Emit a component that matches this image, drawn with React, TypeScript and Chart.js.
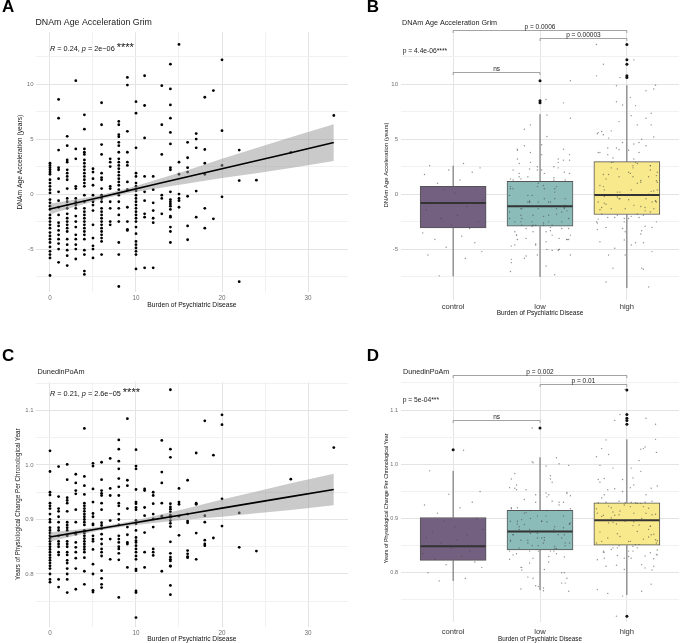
import React, { useEffect, useRef } from 'react';
import { Chart, registerables } from 'chart.js';

Chart.register(...registerables);

const FONT = '"Liberation Sans", Arial, Helvetica, sans-serif';
Chart.defaults.font.family = FONT;

// ---------- axis ticks ----------
const BURDEN_MAJOR = [0, 10, 20, 30];
const BURDEN_MINOR = [5, 15, 25];
const GRIM_MAJOR = [-5, 0, 5, 10];
const GRIM_MINOR = [-7.5, -2.5, 2.5, 7.5, 12.5];
const POAM_MAJOR = [0.8, 0.9, 1.0, 1.1];
const POAM_MINOR = [0.75, 0.85, 0.95, 1.05, 1.15];
const GROUPS = ['control', 'low', 'high'];
const GROUP_POS = [1, 2, 3];
const LOW_MAX_BURDEN = 7; // burden 0 = control, 1..7 = low, >=8 = high

// ---------- scatter data: [burden, values] ----------
const GRIM_COLUMNS: Array<[number, number[]]> = [
  [0, [2.8, 2.6, 2.4, 2.2, 2.0, 1.8, 1.3, 1.0, 0.7, 0.4, 0.1, -0.5, -0.8, -1.1, -1.4, -1.9, -2.2, -2.5, -2.8, -3.1, -3.5, -3.8, -4.1, -4.4, -4.8, -5.2, -5.5, -5.8, -7.4]],
  [1, [8.6, 6.9, 4.0, 2.4, 2.2, 1.4, 0.2, -0.6, -1.2, -1.9, -2.6, -2.9, -3.3, -3.7, -4.1, -4.5, -5.0, -6.2]],
  [2, [5.25, 4.4, 3.1, 2.9, 2.2, 1.9, 1.6, 1.3, 0.5, -0.4, -0.7, -1.0, -1.3, -1.8, -2.2, -2.5, -2.8, -3.1, -3.4, -4.1, -4.6, -5.1, -5.6, -6.5]],
  [3, [10.3, 4.1, 3.2, 0.7, 0.5, -0.4, -0.7, -1.0, -1.3, -2.0, -2.5, -3.0, -3.7, -4.1, -4.6, -5.0, -5.9]],
  [4, [7.2, 5.9, 4.1, 3.8, 3.6, 3.1, 2.8, 2.5, 2.2, 1.9, 1.6, 1.3, 1.0, 0.7, -0.1, -0.7, -1.3, -1.6, -1.9, -2.2, -2.5, -2.8, -3.1, -3.4, -3.7, -4.1, -5.1, -5.5, -7.0, -7.3]],
  [5, [2.3, 2.0, 1.4, 0.8, -0.1, -0.7, -1.0, -1.5, -2.8, -4.0, -4.7, -5.0, -5.8]],
  [6, [8.3, 6.3, 4.5, 3.6, 1.9, 1.5, 1.3, 0.5, -0.1, -0.4, -0.7, -1.3, -1.6, -1.9, -2.2, -2.5, -2.8, -3.1, -3.4, -3.7, -4.0, -4.3, -5.5]],
  [7, [3.2, 2.9, 2.5, 0.7, 0.5, -0.7, -1.3, -2.5, -2.8]],
  [8, [6.6, 6.3, 5.4, 5.2, 4.7, 4.4, 3.8, 3.2, 2.9, 2.6, 2.3, 2.0, 1.7, 1.4, 1.1, 0.8, 0.4, -0.1, -0.7, -1.3, -1.9, -2.5, -4.4, -5.5, -8.4]],
  [9, [10.6, 9.9, 5.7, 3.8, 2.9, 2.6, 1.1, 0.4, -1.2, -2.5, -3.2, -3.3]],
  [10, [8.4, 7.35, 4.2, 1.9, 1.6, 1.0, 0.7, 0.3, -0.1, -0.4, -0.7, -1.0, -1.3, -1.6, -1.9, -2.2, -2.5, -3.0, -3.6, -4.3, -4.6, -4.9, -5.2, -5.5, -6.8]],
  [11, [10.75, 8.05, 5.1, 1.6, 0.2, -0.6, -1.8, -2.1, -6.7]],
  [12, [1.6, 0.4, -0.8, -1.5, -2.2, -2.6, -6.7]],
  [13, [9.85, 6.3, 3.6, -0.1, -0.4, -1.8]],
  [14, [11.8, 9.55, 8.1, 6.9, 5.6, 4.56, 2.4, 2.2, 0.2, -0.5, -0.7, -0.9, -1.1, -1.4, -2.0, -2.1, -3.0, -3.4, -4.4]],
  [15, [13.6, 2.9, 1.8, 0.0, -0.4, -0.6, -1.2]],
  [16, [4.7, 3.3, 2.4, 2.0, -0.2, -2.9, -4.15]],
  [17, [5.5, 5.0, 4.2, 0.27, -2.1]],
  [18, [8.8, 4.05, 2.8, 1.8, -1.3, -3.1]],
  [19, [9.4, -2.25]],
  [20, [12.2, 5.76, 2.6, -0.25]],
  [22, [4.0, 1.23, -7.96]],
  [24, [1.26]],
  [28, [3.78]],
  [33, [7.14]],
];

const POAM_COLUMNS: Array<[number, number[]]> = [
  [0, [1.026, 0.988, 0.95, 0.945, 0.93, 0.925, 0.92, 0.91, 0.9, 0.895, 0.885, 0.88, 0.875, 0.87, 0.865, 0.86, 0.855, 0.85, 0.845, 0.84, 0.835, 0.83, 0.825, 0.82, 0.815, 0.81, 0.8, 0.79, 0.785]],
  [1, [0.997, 0.942, 0.92, 0.915, 0.905, 0.895, 0.885, 0.88, 0.87, 0.86, 0.855, 0.85, 0.84, 0.835, 0.79, 0.776]],
  [2, [1.001, 0.973, 0.94, 0.935, 0.93, 0.915, 0.895, 0.89, 0.885, 0.88, 0.87, 0.86, 0.855, 0.85, 0.84, 0.835, 0.825, 0.82, 0.81, 0.8, 0.79, 0.766]],
  [3, [0.983, 0.967, 0.953, 0.947, 0.918, 0.895, 0.876, 0.873, 0.858, 0.849, 0.84, 0.829, 0.81, 0.772]],
  [4, [1.067, 0.979, 0.962, 0.946, 0.93, 0.925, 0.92, 0.915, 0.91, 0.905, 0.9, 0.895, 0.89, 0.88, 0.875, 0.87, 0.865, 0.86, 0.855, 0.85, 0.845, 0.84, 0.83, 0.805, 0.781]],
  [5, [1.003, 0.998, 0.956, 0.932, 0.911, 0.905, 0.892, 0.89, 0.87, 0.864, 0.86, 0.845, 0.818, 0.8, 0.77, 0.767]],
  [6, [1.005, 0.973, 0.953, 0.948, 0.944, 0.93, 0.918, 0.894, 0.889, 0.883, 0.873, 0.864, 0.855, 0.846, 0.84, 0.833, 0.806, 0.792, 0.781, 0.775]],
  [7, [1.012, 0.957, 0.944, 0.898, 0.864, 0.827]],
  [8, [1.046, 1.029, 1.007, 0.993, 0.975, 0.96, 0.944, 0.93, 0.925, 0.91, 0.9, 0.89, 0.87, 0.864, 0.858, 0.85, 0.846, 0.838, 0.826, 0.757]],
  [9, [1.085, 0.972, 0.962, 0.92, 0.886, 0.872, 0.858, 0.855, 0.812]],
  [10, [1.028, 0.998, 0.993, 0.955, 0.932, 0.929, 0.922, 0.918, 0.898, 0.892, 0.88, 0.867, 0.861, 0.858, 0.852, 0.846, 0.84, 0.833, 0.827, 0.809, 0.806, 0.769, 0.766, 0.72]],
  [11, [0.956, 0.953, 0.922, 0.907, 0.876, 0.84, 0.812]],
  [12, [0.95, 0.944, 0.929, 0.91, 0.901, 0.886, 0.846, 0.84, 0.834]],
  [13, [1.045, 0.987, 0.967, 0.93, 0.906, 0.805]],
  [14, [1.138, 1.029, 1.014, 0.929, 0.923, 0.919, 0.914, 0.908, 0.904, 0.898, 0.893, 0.887, 0.859, 0.838, 0.831, 0.827, 0.824, 0.815, 0.814, 0.779, 0.762]],
  [15, [0.957, 0.932, 0.928, 0.906, 0.871]],
  [16, [0.972, 0.91, 0.897, 0.894, 0.843, 0.837, 0.832, 0.83]],
  [17, [1.022, 0.93, 0.928, 0.875, 0.827]],
  [18, [1.081, 0.907, 0.895, 0.862, 0.855, 0.852]],
  [19, [1.018, 0.866]],
  [20, [1.092, 1.074, 0.938, 0.888]],
  [22, [0.912, 0.849]],
  [24, [0.842]],
  [28, [0.974]],
  [33, [1.032]],
];

// ---------- regression fits with 95% bands ----------
const FIT_X = [0, 3, 6, 9, 12, 16, 20, 24, 28, 33];
const GRIM_FIT = [-1.36, -0.81, -0.26, 0.29, 0.84, 1.57, 2.3, 3.03, 3.76, 4.68];
const GRIM_LOWER = [-1.84, -1.12, -0.44, 0.08, 0.47, 0.97, 1.45, 1.88, 2.36, 3.01];
const GRIM_UPPER = [-0.88, -0.5, -0.07, 0.51, 1.2, 2.17, 3.2, 4.18, 5.16, 6.35];
const POAM_FIT = [0.868, 0.8759, 0.8838, 0.8918, 0.8997, 0.9102, 0.9208, 0.9314, 0.9419, 0.9551];
const POAM_LOWER = [0.8596, 0.8705, 0.8806, 0.8881, 0.8934, 0.8998, 0.9048, 0.9114, 0.9175, 0.9261];
const POAM_UPPER = [0.8764, 0.8813, 0.887, 0.8955, 0.906, 0.9206, 0.9368, 0.9514, 0.9663, 0.9841];

// ---------- boxplot stats (control, low, high) ----------
const GRIM_WHISK_LO = [-7.45, -7.5, -8.5];
const GRIM_Q1 = [-3.06, -2.9, -1.83];
const GRIM_MEDIAN = [-0.78, -1.08, -0.06];
const GRIM_Q3 = [0.72, 1.17, 2.97];
const GRIM_WHISK_HI = [2.6, 7.27, 9.9];
const GRIM_OUTLIERS: Array<[number, number]> = [[2, 10.3], [2, 8.5], [2, 8.3], [3, 13.6], [3, 12.2], [3, 11.8], [3, 10.75], [3, 10.6]];

const POAM_WHISK_LO = [0.785, 0.768, 0.759];
const POAM_Q1 = [0.823, 0.842, 0.851];
const POAM_MEDIAN = [0.849, 0.876, 0.897];
const POAM_Q3 = [0.902, 0.915, 0.929];
const POAM_WHISK_HI = [0.988, 1.013, 1.046];
const POAM_OUTLIERS: Array<[number, number]> = [[1, 1.027], [2, 1.067], [3, 1.137], [3, 1.092], [3, 1.085], [3, 1.081], [3, 1.074], [3, 0.72]];

// ---------- comparisons ----------
const GRIM_BRACKETS: Array<[number, number, number, string]> = [[1, 3, 14.9, 'p = 0.0006'], [2, 3, 14.21, 'p = 0.00003'], [1, 2, 11.13, 'ns']];
const POAM_BRACKETS: Array<[number, number, number, string]> = [[1, 3, 1.165, 'p = 0.002'], [2, 3, 1.148, 'p = 0.01'], [1, 2, 1.082, 'ns']];
const GRIM_GLOBAL_P = 'p = 4.4e-06****';
const POAM_GLOBAL_P = 'p = 5e-04***';
const GRIM_R = '0.24';
const GRIM_P = '2e\u221206';
const POAM_R = '0.21';
const POAM_P = '2.6e\u221205';
const STARS = '****';

// horizontal jitter offsets for the box-plot points
const JITTER = [0.12, -0.27, 0.31, -0.05, 0.22, -0.33, 0.08, -0.18, 0.27, -0.11, 0.02, 0.34, -0.24, 0.16, -0.31, 0.05, -0.14, 0.29, -0.02, 0.19, -0.35, 0.1, -0.21, 0.25, -0.08, 0.33, -0.29, 0.14, -0.16, 0.07, 0.35, -0.26, 0.21, -0.03, -0.34, 0.17, -0.12, 0.28, -0.22, 0.04, -0.09];

const BOX_FILL = ['#735f7f', '#8bbcb9', '#f8e98c'];
const MAJOR_GRID = '#e4e4e4';
const MINOR_GRID = '#f1f1f1';

// ---------- helpers ----------
const isIn = (arr: number[], v: number) => arr.some((a) => Math.abs(a - v) < 1e-9);

function scatterPoints(cols: Array<[number, number[]]>) {
  const pts: { x: number; y: number }[] = [];
  cols.forEach(([b, vals]) => vals.forEach((v) => pts.push({ x: b, y: v })));
  return pts;
}

function jitterPoints(cols: Array<[number, number[]]>) {
  const pts: { x: number; y: number }[] = [];
  let k = 0;
  cols.forEach(([b, vals]) => {
    const g = b === 0 ? 0 : b <= LOW_MAX_BURDEN ? 1 : 2;
    vals.forEach((v) => {
      pts.push({ x: GROUP_POS[g] + JITTER[k % JITTER.length], y: v });
      k++;
    });
  });
  return pts;
}

function setTicks(values: number[]) {
  return (s: any) => {
    s.ticks = [...values].sort((a, b) => a - b).map((v) => ({ value: v }));
  };
}

function font(size: number, lineHeight = 1.2) {
  return { family: FONT, size, lineHeight };
}

function txt(ctx: CanvasRenderingContext2D, s: string, x: number, y: number, f: string, align: CanvasTextAlign = 'left', base: CanvasTextBaseline = 'middle', color = '#1a1a1a') {
  ctx.font = f;
  ctx.textAlign = align;
  ctx.textBaseline = base;
  ctx.fillStyle = color;
  ctx.fillText(s, x, y);
}

function corLabel(ctx: CanvasRenderingContext2D, x: number, baseline: number, r: string, p: string) {
  const size = 7.3;
  const parts: Array<[string, boolean]> = [['R', true], [' = ' + r + ', ', false], ['p', true], [' = ' + p + ' ', false]];
  let cx = x;
  ctx.textAlign = 'left';
  ctx.textBaseline = 'alphabetic';
  ctx.fillStyle = '#111';
  parts.forEach(([t, it]) => {
    ctx.font = `${it ? 'italic ' : ''}${size}px ${FONT}`;
    ctx.fillText(t, cx, baseline);
    cx += ctx.measureText(t).width;
  });
  ctx.font = `11px ${FONT}`;
  ctx.fillText(STARS, cx, baseline + 0.5);
}

function brackets(chart: any, list: Array<[number, number, number, string]>) {
  const { ctx, scales } = chart;
  const xs = scales.x;
  const ys = scales.y;
  ctx.save();
  ctx.strokeStyle = '#8c8c8c';
  ctx.lineWidth = 0.8;
  list.forEach(([a, b, v, label]) => {
    const x1 = xs.getPixelForValue(a);
    const x2 = xs.getPixelForValue(b);
    const py = Math.round(ys.getPixelForValue(v)) + 0.5;
    ctx.beginPath();
    ctx.moveTo(x1, py + 2.5);
    ctx.lineTo(x1, py);
    ctx.lineTo(x2, py);
    ctx.lineTo(x2, py + 2.5);
    ctx.stroke();
    txt(ctx, label, (x1 + x2) / 2, py - 3.6, `6.5px ${FONT}`, 'center', 'middle', '#222');
  });
  ctx.restore();
}

// ---------- configs ----------
interface ScatterSpec {
  cols: Array<[number, number[]]>;
  fit: number[];
  lower: number[];
  upper: number[];
  yMin: number;
  yMax: number;
  yMajor: number[];
  yMinor: number[];
  yFmt: (v: number) => string;
  yTitle: string;
  yTitleSize: number;
  yTitlePad: number;
  top: number;
  xAxisH: number;
  xTickPad: number;
  xTitleSize: number;
  xTitleLH: number;
  xTitlePad: number;
  plugin: any;
}

function scatterConfig(s: ScatterSpec): any {
  return {
    type: 'scatter',
    data: {
      datasets: [
        {
          type: 'line',
          data: FIT_X.map((x, i) => ({ x, y: s.fit[i] })),
          borderColor: '#000',
          borderWidth: 1.6,
          pointRadius: 0,
          fill: false,
        },
        {
          type: 'line',
          data: FIT_X.map((x, i) => ({ x, y: s.upper[i] })),
          borderColor: 'rgba(0,0,0,0)',
          borderWidth: 0,
          pointRadius: 0,
          fill: '+1',
          backgroundColor: 'rgba(150,150,150,0.5)',
        },
        {
          type: 'line',
          data: FIT_X.map((x, i) => ({ x, y: s.lower[i] })),
          borderColor: 'rgba(0,0,0,0)',
          borderWidth: 0,
          pointRadius: 0,
          fill: false,
        },
        {
          type: 'scatter',
          data: scatterPoints(s.cols),
          pointRadius: 1.4,
          pointBackgroundColor: '#000',
          pointBorderWidth: 0,
        },
      ],
    },
    options: {
      animation: false,
      responsive: false,
      events: [],
      layout: { padding: { top: s.top, right: 4, left: 0, bottom: 0 } },
      plugins: { legend: { display: false }, tooltip: { enabled: false } },
      scales: {
        x: {
          type: 'linear',
          min: -1.65,
          max: 34.65,
          bounds: 'data',
          afterBuildTicks: setTicks([...BURDEN_MAJOR, ...BURDEN_MINOR]),
          afterFit: (sc: any) => {
            sc.height = s.xAxisH;
          },
          ticks: {
            autoSkip: false,
            maxRotation: 0,
            padding: s.xTickPad,
            font: font(6.3),
            color: '#707070',
            callback: (v: number) => (isIn(BURDEN_MAJOR, v) ? String(v) : ''),
          },
          grid: {
            drawTicks: false,
            color: (c: any) => (c.tick && isIn(BURDEN_MINOR, c.tick.value) ? MINOR_GRID : MAJOR_GRID),
            lineWidth: 1,
          },
          border: { display: false },
          title: {
            display: true,
            text: 'Burden of Psychiatric Disease',
            font: font(s.xTitleSize, s.xTitleLH),
            color: '#111',
            padding: { top: 0, bottom: s.xTitlePad },
          },
        },
        y: {
          type: 'linear',
          min: s.yMin,
          max: s.yMax,
          bounds: 'data',
          afterBuildTicks: setTicks([...s.yMajor, ...s.yMinor]),
          afterFit: (sc: any) => {
            sc.width = 35.8;
          },
          ticks: {
            autoSkip: false,
            padding: 2.3,
            font: font(6),
            color: '#707070',
            callback: (v: number) => (isIn(s.yMajor, v) ? s.yFmt(v) : ''),
          },
          grid: {
            drawTicks: false,
            color: (c: any) => (c.tick && isIn(s.yMinor, c.tick.value) ? MINOR_GRID : MAJOR_GRID),
            lineWidth: 1,
          },
          border: { display: false },
          title: {
            display: true,
            text: s.yTitle,
            font: font(s.yTitleSize),
            color: '#111',
            padding: { top: s.yTitlePad, bottom: 0 },
          },
        },
      },
    },
    plugins: [s.plugin],
  };
}

interface BoxSpec {
  cols: Array<[number, number[]]>;
  lo: number[];
  q1: number[];
  med: number[];
  q3: number[];
  hi: number[];
  outliers: Array<[number, number]>;
  yMin: number;
  yMax: number;
  yMajor: number[];
  yMinor: number[];
  yFmt: (v: number) => string;
  yTickSize: number;
  yTitle: string;
  yTitleSize: number;
  yTitlePad: number;
  top: number;
  xAxisH: number;
  xTickPad: number;
  xTitleSize: number;
  xTitleLH: number;
  xTitlePad: number;
  plugin: any;
}

function boxConfig(s: BoxSpec): any {
  const whiskers: any[] = [];
  const medians: any[] = [];
  GROUP_POS.forEach((p, i) => {
    whiskers.push({ x: p, y: s.q3[i] }, { x: p, y: s.hi[i] }, { x: p, y: null }, { x: p, y: s.lo[i] }, { x: p, y: s.q1[i] }, { x: p, y: null });
    medians.push({ x: p - 0.375, y: s.med[i] }, { x: p + 0.375, y: s.med[i] }, { x: p, y: null });
  });
  return {
    type: 'scatter',
    data: {
      datasets: [
        {
          type: 'scatter',
          data: jitterPoints(s.cols),
          pointRadius: 0.7,
          pointBackgroundColor: 'rgba(70,70,70,0.6)',
          pointBorderWidth: 0,
          order: 0,
        },
        {
          type: 'scatter',
          data: s.outliers.map(([g, v]) => ({ x: g, y: v })),
          pointRadius: 1.5,
          pointBackgroundColor: '#111',
          pointBorderWidth: 0,
          order: 1,
        },
        {
          type: 'line',
          data: medians,
          borderColor: '#333',
          borderWidth: 2,
          pointRadius: 0,
          spanGaps: false,
          fill: false,
          order: 2,
        },
        {
          type: 'bar',
          data: GROUP_POS.map((p, i) => ({ x: p, y: [s.q1[i], s.q3[i]] })),
          backgroundColor: BOX_FILL,
          borderColor: '#555',
          borderWidth: 1,
          borderSkipped: false,
          barThickness: 66,
          grouped: false,
          order: 3,
        },
        {
          type: 'line',
          data: whiskers,
          borderColor: '#666',
          borderWidth: 1,
          pointRadius: 0,
          spanGaps: false,
          fill: false,
          order: 4,
        },
      ],
    },
    options: {
      animation: false,
      responsive: false,
      events: [],
      layout: { padding: { top: s.top, right: 0, left: 0, bottom: 0 } },
      plugins: { legend: { display: false }, tooltip: { enabled: false } },
      scales: {
        x: {
          type: 'linear',
          min: 0.4,
          max: 3.6,
          bounds: 'data',
          offset: false,
          afterBuildTicks: setTicks(GROUP_POS),
          afterFit: (sc: any) => {
            sc.height = s.xAxisH;
          },
          ticks: {
            autoSkip: false,
            maxRotation: 0,
            padding: s.xTickPad,
            font: font(7.6),
            color: '#333',
            callback: (v: number) => GROUPS[Math.round(v) - 1] ?? '',
          },
          grid: { drawTicks: false, color: MAJOR_GRID, lineWidth: 1, offset: false },
          border: { display: false },
          title: {
            display: true,
            text: 'Burden of Psychiatric Disease',
            font: font(s.xTitleSize, s.xTitleLH),
            color: '#111',
            padding: { top: 0, bottom: s.xTitlePad },
          },
        },
        y: {
          type: 'linear',
          min: s.yMin,
          max: s.yMax,
          bounds: 'data',
          beginAtZero: false,
          afterBuildTicks: setTicks([...s.yMajor, ...s.yMinor]),
          afterFit: (sc: any) => {
            sc.width = 61;
          },
          ticks: {
            autoSkip: false,
            padding: 3,
            font: font(s.yTickSize),
            color: '#707070',
            callback: (v: number) => (isIn(s.yMajor, v) ? s.yFmt(v) : ''),
          },
          grid: {
            drawTicks: false,
            color: (c: any) => (c.tick && isIn(s.yMinor, c.tick.value) ? MINOR_GRID : MAJOR_GRID),
            lineWidth: 1,
          },
          border: { display: false },
          title: {
            display: true,
            text: s.yTitle,
            font: font(s.yTitleSize),
            color: '#111',
            padding: { top: s.yTitlePad, bottom: 0 },
          },
        },
      },
    },
    plugins: [s.plugin],
  };
}

// ---------- annotation plugins ----------
const annotA = {
  id: 'annotA',
  afterDraw(chart: any) {
    const { ctx, scales } = chart;
    ctx.save();
    txt(ctx, 'A', 2, 7.5, `bold 17px ${FONT}`, 'left', 'middle', '#000');
    txt(ctx, 'DNAm Age Acceleration Grim', 35.5, 23, `8.8px ${FONT}`);
    corLabel(ctx, scales.x.getPixelForValue(0), scales.y.getPixelForValue(13.25) + 2.6, GRIM_R, GRIM_P);
    ctx.restore();
  },
};

const annotC = {
  id: 'annotC',
  afterDraw(chart: any) {
    const { ctx, scales } = chart;
    ctx.save();
    txt(ctx, 'C', 2, 36.5, `bold 17px ${FONT}`, 'left', 'middle', '#000');
    txt(ctx, 'DunedinPoAm', 37.5, 52.3, `7.3px ${FONT}`);
    corLabel(ctx, scales.x.getPixelForValue(0), scales.y.getPixelForValue(1.1316) + 2.6, POAM_R, POAM_P);
    ctx.restore();
  },
};

const annotB = {
  id: 'annotB',
  afterDraw(chart: any) {
    const { ctx, scales } = chart;
    ctx.save();
    txt(ctx, 'B', 26.7, 7.5, `bold 17px ${FONT}`, 'left', 'middle', '#000');
    txt(ctx, 'DNAm Age Acceleration Grim', 62, 23.3, `7.2px ${FONT}`);
    txt(ctx, GRIM_GLOBAL_P, scales.x.getPixelForValue(0.42), scales.y.getPixelForValue(13.0), `6.7px ${FONT}`, 'left', 'middle', '#222');
    ctx.restore();
    brackets(chart, GRIM_BRACKETS);
  },
};

const annotD = {
  id: 'annotD',
  afterDraw(chart: any) {
    const { ctx, scales } = chart;
    ctx.save();
    txt(ctx, 'D', 26.7, 36.5, `bold 17px ${FONT}`, 'left', 'middle', '#000');
    txt(ctx, 'DunedinPoAm', 63, 52.3, `7.2px ${FONT}`);
    txt(ctx, POAM_GLOBAL_P, scales.x.getPixelForValue(0.42), scales.y.getPixelForValue(1.119), `6.7px ${FONT}`, 'left', 'middle', '#222');
    ctx.restore();
    brackets(chart, POAM_BRACKETS);
  },
};

const fmtInt = (v: number) => String(v);
const fmt1 = (v: number) => v.toFixed(1);

export default function App() {
  const refA = useRef<HTMLCanvasElement>(null);
  const refB = useRef<HTMLCanvasElement>(null);
  const refC = useRef<HTMLCanvasElement>(null);
  const refD = useRef<HTMLCanvasElement>(null);

  useEffect(() => {
    const charts: Chart[] = [];
    charts.push(
      new Chart(
        refA.current!,
        scatterConfig({
          cols: GRIM_COLUMNS,
          fit: GRIM_FIT,
          lower: GRIM_LOWER,
          upper: GRIM_UPPER,
          yMin: -8.9,
          yMax: 14.7,
          yMajor: GRIM_MAJOR,
          yMinor: GRIM_MINOR,
          yFmt: fmtInt,
          yTitle: 'DNAm Age Acceleration (years)',
          yTitleSize: 6.7,
          yTitlePad: 16,
          top: 32.3,
          xAxisH: 20,
          xTickPad: 2.2,
          xTitleSize: 6.7,
          xTitleLH: 1.2,
          xTitlePad: 3,
          plugin: annotA,
        })
      )
    );
    charts.push(
      new Chart(
        refB.current!,
        boxConfig({
          cols: GRIM_COLUMNS,
          lo: GRIM_WHISK_LO,
          q1: GRIM_Q1,
          med: GRIM_MEDIAN,
          q3: GRIM_Q3,
          hi: GRIM_WHISK_HI,
          outliers: GRIM_OUTLIERS,
          yMin: -9.59,
          yMax: 14.91,
          yMajor: GRIM_MAJOR,
          yMinor: GRIM_MINOR,
          yFmt: fmtInt,
          yTickSize: 6,
          yTitle: 'DNAm Age Acceleration (years)',
          yTitleSize: 6,
          yTitlePad: 43.1,
          top: 30,
          xAxisH: 20,
          xTickPad: 2.1,
          xTitleSize: 6.5,
          xTitleLH: 1.2,
          xTitlePad: 3.1,
          plugin: annotB,
        })
      )
    );
    charts.push(
      new Chart(
        refC.current!,
        scatterConfig({
          cols: POAM_COLUMNS,
          fit: POAM_FIT,
          lower: POAM_LOWER,
          upper: POAM_UPPER,
          yMin: 0.7033,
          yMax: 1.1528,
          yMajor: POAM_MAJOR,
          yMinor: POAM_MINOR,
          yFmt: fmt1,
          yTitle: 'Years of Physiological Change Per Chronological Year',
          yTitleSize: 6.3,
          yTitlePad: 14.5,
          top: 61.7,
          xAxisH: 16.3,
          xTickPad: 2.5,
          xTitleSize: 6.7,
          xTitleLH: 1,
          xTitlePad: 0.35,
          plugin: annotC,
        })
      )
    );
    charts.push(
      new Chart(
        refD.current!,
        boxConfig({
          cols: POAM_COLUMNS,
          lo: POAM_WHISK_LO,
          q1: POAM_Q1,
          med: POAM_MEDIAN,
          q3: POAM_Q3,
          hi: POAM_WHISK_HI,
          outliers: POAM_OUTLIERS,
          yMin: 0.7098,
          yMax: 1.1647,
          yMajor: POAM_MAJOR,
          yMinor: POAM_MINOR,
          yFmt: fmt1,
          yTickSize: 5.5,
          yTitle: 'Years of Physiological Change Per Chronological Year',
          yTitleSize: 5.4,
          yTitlePad: 43.5,
          top: 55,
          xAxisH: 21.3,
          xTickPad: 6,
          xTitleSize: 6.3,
          xTitleLH: 1,
          xTitlePad: 0.55,
          plugin: annotD,
        })
      )
    );
    return () => charts.forEach((c) => c.destroy());
  }, []);

  const cs = (l: number, t: number, w: number, h: number): React.CSSProperties => ({
    position: 'absolute',
    left: l,
    top: t,
    width: w,
    height: h,
    display: 'block',
  });

  return (
    <div style={{ position: 'fixed', left: 0, top: 0, width: 683, height: 643, background: '#fff', overflow: 'hidden' }}>
      <canvas ref={refA} width={352} height={312} style={cs(0, 0, 352, 312)} />
      <canvas ref={refC} width={352} height={323} style={cs(0, 320, 352, 323)} />
      <canvas ref={refB} width={343} height={320} style={cs(340, 0, 343, 320)} />
      <canvas ref={refD} width={343} height={323} style={cs(340, 320, 343, 323)} />
    </div>
  );
}
